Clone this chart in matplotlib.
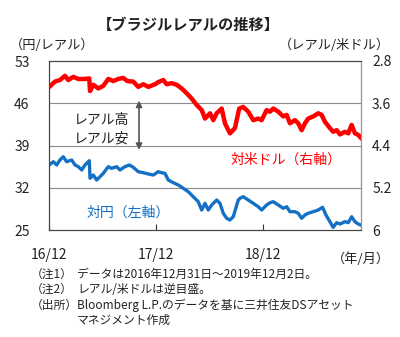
import matplotlib
matplotlib.use("Agg")
import matplotlib.pyplot as plt

plt.rcParams["font.family"] = ["Noto Sans CJK JP", "DejaVu Sans"]

# months since 2016/12
usd_x = [0.03, 0.67, 1.23, 1.79, 2.16, 2.73, 3.29, 4.04, 4.52, 4.6, 4.97, 5.53, 6.09, 6.65,
         7.21, 7.77, 8.33, 8.78, 9.45, 10.01, 10.58, 11.14, 11.89, 12.26, 12.82, 13.2, 13.76,
         14.32, 14.88, 15.44, 16.0, 16.56, 17.13, 17.5, 18.06, 18.43, 18.81, 19.37, 19.74,
         20.3, 20.86, 21.34, 21.79, 22.35, 22.91, 23.47, 23.85, 24.41, 24.79, 25.16, 25.72,
         26.28, 26.66, 27.03, 27.59, 27.96, 28.34, 28.71, 29.08, 29.64, 30.2, 30.58, 30.95,
         31.51, 31.88, 32.27, 32.64, 33.2, 33.57, 33.95, 34.32, 34.69, 34.96]
usd_v = [3.29, 3.19, 3.16, 3.08, 3.16, 3.10, 3.14, 3.14, 3.13, 3.37, 3.25, 3.32, 3.27, 3.14,
         3.18, 3.14, 3.12, 3.18, 3.19, 3.29, 3.24, 3.29, 3.24, 3.20, 3.16, 3.24, 3.22,
         3.25, 3.32, 3.41, 3.51, 3.63, 3.73, 3.89, 3.79, 3.92, 3.79, 3.70, 3.98,
         4.17, 4.07, 3.70, 3.67, 3.76, 3.92, 3.89, 3.92, 3.73, 3.76, 3.70, 3.76,
         3.85, 3.82, 3.98, 3.92, 3.98, 4.11, 3.98, 3.89, 3.85, 3.79, 3.82, 3.95,
         4.07, 4.14, 4.11, 4.19, 4.14, 4.17, 4.01, 4.17, 4.20, 4.25]

jpy_x = [0.03, 0.48, 0.86, 1.23, 1.6, 1.98, 2.55, 2.92, 3.29, 3.67, 4.04, 4.52, 4.6, 4.97,
         5.35, 5.72, 6.09, 6.65, 7.03, 7.59, 7.96, 8.52, 9.01, 9.45, 10.01, 10.58, 11.14,
         11.7, 12.26, 12.64, 13.01, 13.38, 13.94, 14.5, 15.06, 15.62, 16.18, 16.74, 17.13,
         17.5, 17.87, 18.25, 18.81, 19.18, 19.55, 19.93, 20.3, 20.67, 21.23, 21.42, 21.79,
         22.35, 22.91, 23.47, 23.85, 24.41, 24.79, 25.16, 25.72, 26.28, 26.66, 27.03, 27.59,
         27.96, 28.34, 28.71, 29.08, 29.64, 30.2, 30.69, 31.07, 31.51, 31.88, 32.27, 32.64,
         33.2, 33.57, 33.95, 34.32, 34.69, 34.96]
jpy_v = [35.77, 36.32, 35.77, 36.6, 37.14, 36.32, 36.6, 35.77, 35.49, 34.94, 35.77, 36.48, 33.57, 34.11,
         33.28, 33.83, 34.39, 35.49, 35.22, 35.49, 34.94, 35.49, 35.77, 35.39, 34.66, 34.49, 34.28,
         34.11, 34.66, 34.49, 34.39, 33.28, 32.84, 32.46, 31.91, 31.35, 30.52, 29.69, 28.31,
         29.42, 28.31, 29.14, 29.97, 29.42, 27.77, 26.94, 26.66, 27.2, 29.97, 30.25, 30.52,
         29.97, 29.42, 28.86, 28.31, 29.14, 29.52, 29.69, 29.14, 28.6, 28.86, 28.03, 28.03,
         27.77, 26.94, 27.49, 27.77, 28.03, 28.31, 28.76, 27.49, 26.38, 25.45, 26.21, 25.99,
         26.38, 26.21, 27.2, 26.38, 25.99, 25.83]

left_ticks = [25, 32, 39, 46, 53]
right_ticks = [2.8, 3.6, 4.4, 5.2, 6]
x_ticks = [0, 12, 24]
x_labels = ["16/12", "17/12", "18/12"]

W, H = 400, 337
TXT = "#222222"

fig = plt.figure(figsize=(4.0, 3.37), dpi=100)
ax = fig.add_axes([49 / W, 1 - 230 / H, 312 / W, 169 / H])
ax2 = ax.twinx()

ax.plot(jpy_x, jpy_v, color="#1470C4", lw=2.4, solid_joinstyle="round")
ax2.plot(usd_x, usd_v, color="#FF0000", lw=3.2, solid_joinstyle="round")

ax.set_xlim(0, 35)
ax.set_ylim(25, 53)
ax2.set_ylim(6, 2.8)
ax.set_yticks(left_ticks)
ax.set_yticklabels([str(t) for t in left_ticks])
ax2.set_yticks(right_ticks)
ax2.set_yticklabels(["2.8", "3.6", "4.4", "5.2", "6"])
ax.set_xticks(x_ticks)
ax.set_xticklabels(x_labels)

for y in [32, 39, 46]:
    ax.axhline(y, color="#8c8c8c", lw=0.8, zorder=0)

ax.tick_params(axis="y", length=0, pad=14, labelsize=10, labelcolor=TXT)
ax2.tick_params(axis="y", length=0, pad=8, labelsize=10, labelcolor=TXT)
ax.tick_params(axis="x", direction="in", length=4, width=0.8, color="#333333",
               pad=13, labelsize=10, labelcolor=TXT)
for a in (ax, ax2):
    for s in a.spines.values():
        s.set_color("#444444")
        s.set_linewidth(0.8)
ax2.spines["right"].set_color("#999999")

ax.annotate("", xy=(10.1, 46.9), xytext=(10.1, 37.8),
            arrowprops=dict(arrowstyle="<|-|>", color="#555555", lw=1.2,
                            mutation_scale=9))
ax.text(5.9, 43.3, "レアル高", fontsize=10, color=TXT, ha="center", va="center")
ax.text(5.9, 40.2, "レアル安", fontsize=10, color=TXT, ha="center", va="center")

fig.text(286 / W, 1 - 160 / H, "対米ドル（右軸）", fontsize=10, color="#FF0000",
         ha="center", va="center")
fig.text(128 / W, 1 - 213 / H, "対円（左軸）", fontsize=10, color="#1470C4",
         ha="center", va="center")

fig.text(188 / W, 1 - 25 / H, "【ブラジルレアルの推移】", fontsize=11, fontweight="bold",
         color=TXT, ha="center", va="center")
fig.text(10 / W, 1 - 45 / H, "（円/レアル）", fontsize=9.5, color=TXT, ha="left", va="center")
fig.text(390 / W, 1 - 45 / H, "（レアル/米ドル）", fontsize=9.5, color=TXT, ha="right", va="center")
fig.text(390 / W, 1 - 259 / H, "（年/月）", fontsize=9.5, color=TXT, ha="right", va="center")

notes = [
    ("（注1）", "データは2016年12月31日～2019年12月2日。"),
    ("（注2）", "レアル/米ドルは逆目盛。"),
    ("（出所）", "Bloomberg L.P.のデータを基に三井住友DSアセット"),
    ("", "マネジメント作成"),
]
for i, (head, body) in enumerate(notes):
    yy = 1 - (274 + i * 15.5) / H
    if head:
        fig.text(31 / W, yy, head, fontsize=8.5, color=TXT, ha="left", va="center")
    fig.text(77 / W, yy, body, fontsize=8.5, color=TXT, ha="left", va="center")

fig.savefig("out.png", dpi=100)
